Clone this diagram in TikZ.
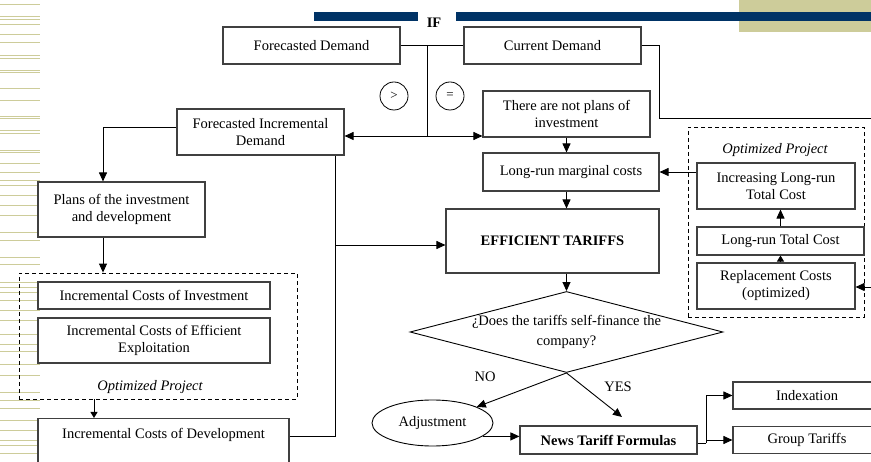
\documentclass[tikz,border=0pt]{standalone}
\usepackage{fontspec}
\setmainfont{Liberation Serif}
\usetikzlibrary{arrows.meta,shapes.geometric}

\begin{document}
\begin{tikzpicture}[x=1pt,y=-1pt]

    % Colors: slide decoration and box lines
    \definecolor{slidebeige}{RGB}{205,204,154}
    \definecolor{slidenavy}{RGB}{0,51,102}
    \colorlet{boxline}{black!75}

    % Page = 871 x 462 (1 unit = 1pt, y grows downwards)
    \useasboundingbox (0,0) rectangle (871,462);
    \clip (0,0) rectangle (871,462);

    % --- Slide decoration ---
    \foreach \yy in {4,16,19,24,34,42,55,58,70,72,88,100,116,118,130,133,150,152,
                     163,172,180,185,195,205,215,232,240,257,264,282,287,292,300,
                     310,320,334,344,351,364,375,392,400,408,420,430,440,445,453}
        \fill[slidebeige] (0,\yy) rectangle (40,\yy+1.5);
    \fill[slidebeige] (739,0) rectangle (871,32);
    \fill[slidenavy] (314,12) rectangle (418,21);
    \fill[slidenavy] (456,12) rectangle (871,21);

    % Box style: plain rectangle, sizes given per node
    \tikzset{
        cbox/.style={draw=boxline, line width=1.1pt, fill=white,
            align=center, inner sep=0pt,
            font=\fontsize{14.5}{17}\selectfont},
        grp/.style={draw=black, dashed, line width=0.8pt,
            dash pattern=on 4pt off 3pt, inner sep=0pt},
        lbl/.style={inner sep=0pt, font=\fontsize{14.5}{17}\selectfont},
        conn/.style={draw=black, line width=0.9pt},
        arr/.style={conn, -{Triangle[length=9pt,width=8pt]}},
        sarr/.style={conn, -{Triangle[length=6pt,width=7pt]}}
    }

    % --- Top: IF comparison ---
    \node[lbl, font=\fontsize{14.5}{17}\selectfont\bfseries] (iflbl) at (434,23) {IF};
    \node[cbox, minimum width=177, minimum height=37] (fdem) at (311.5,45.5) {Forecasted Demand};
    \node[cbox, minimum width=177, minimum height=37] (cdem) at (552.5,45.5) {Current Demand};
    \node[draw=black, line width=0.8pt, circle, minimum size=28, inner sep=0pt,
          font=\fontsize{13}{15}\selectfont] (gt) at (394,96) {>};
    \node[draw=black, line width=0.8pt, circle, minimum size=28, inner sep=0pt,
          font=\fontsize{13}{15}\selectfont] (eq) at (450,96) {=};

    \node[cbox, minimum width=167, minimum height=46] (fidem) at (260.5,132) {Forecasted Incremental\\Demand};
    \node[cbox, minimum width=167, minimum height=46] (noplan) at (566.5,114) {There are not plans of\\investment};

    % --- Centre column ---
    \node[cbox, minimum width=176, minimum height=38] (lrmc) at (571,172) {Long-run marginal costs};
    \node[cbox, minimum width=213, minimum height=64, font=\fontsize{14.5}{17}\selectfont\bfseries]
        (eff) at (552.5,241) {EFFICIENT TARIFFS};
    % decision diamond (text is wider than the shape, so it sits on top)
    \node[draw=black, line width=0.9pt, diamond, inner sep=0pt,
          minimum width=313, minimum height=81] (dia) at (566.5,332) {};
    \node[lbl, align=center, font=\fontsize{14.5}{20}\selectfont]
        (dialbl) at (dia.center) {¿Does the tariffs self-finance the\\company?};

    % --- Right group (optimized project) ---
    \node[grp, minimum width=176, minimum height=190] (grpR) at (776,222) {};
    \node[lbl, font=\fontsize{14.5}{17}\selectfont\itshape] (optR) at (775,150) {Optimized Project};
    \node[cbox, minimum width=158, minimum height=46] (iltc) at (776,186) {Increasing Long-run\\Total Cost};
    \node[cbox, minimum width=167, minimum height=28] (ltc) at (780.5,241) {Long-run Total Cost};
    \node[cbox, minimum width=158, minimum height=46] (repl) at (776,286) {Replacement Costs\\(optimized)};

    % --- Left column ---
    \node[cbox, minimum width=167, minimum height=55] (plans) at (121.5,209.5) {Plans of the investment\\and development};
    \node[grp, minimum width=278, minimum height=126] (grpL) at (158,336) {};
    \node[cbox, minimum width=232, minimum height=27] (ici) at (154,295.5) {Incremental Costs of Investment};
    \node[cbox, minimum width=232, minimum height=45] (icee) at (154,340.5) {Incremental Costs of Efficient\\Exploitation};
    \node[lbl, font=\fontsize{14.5}{17}\selectfont\itshape] (optL) at (150,387) {Optimized Project};
    \node[cbox, anchor=north, minimum width=251, text height=20pt, text depth=40pt]
        (icd) at (163.5,418) {Incremental Costs of Development};

    % --- Bottom row ---
    \node[draw=black, line width=0.9pt, ellipse, minimum width=121, minimum height=46,
          inner sep=0pt, font=\fontsize{14.5}{17}\selectfont] (adj) at (432.5,423) {Adjustment};
    \node[cbox, minimum width=177, minimum height=28, font=\fontsize{14.5}{17}\selectfont\bfseries]
        (news) at (608.5,440) {News Tariff Formulas};
    \node[cbox, minimum width=148, minimum height=27] (index) at (807,395.5) {Indexation};
    \node[cbox, minimum width=148, minimum height=27] (group) at (807,440) {Group Tariffs};
    \node[lbl] (nolbl) at (485,377) {NO};
    \node[lbl] (yeslbl) at (618,387) {YES};

    % Junction points
    \coordinate (jif) at (427,45.5);
    \coordinate (jsplit) at (427,136);
    \coordinate (jcur) at (659,118);
    \coordinate (edgeA) at (871,118);
    \coordinate (edgeB) at (871,287);
    \coordinate (jeff) at (335,245);
    \coordinate (xdev) at (94,0);
    \coordinate (jnews) at (706,0);
    \coordinate (yesend) at (622,417);

    % --- Connectors ---
    \draw[conn] (fdem.east) -- (cdem.west);
    \draw[conn] (jif) -- (jsplit);
    \draw[arr] (jsplit) -- (jsplit -| fidem.east);
    \draw[arr] (jsplit) -- (jsplit -| noplan.west);
    \draw[conn] (cdem.east) -| (jcur) -- (edgeA);
    \draw[arr] (edgeB) -- (edgeB -| repl.east);

    \draw[arr] (noplan.south) -- (noplan.south |- lrmc.north);
    \draw[arr] (noplan.south |- lrmc.south) -- (noplan.south |- eff.north);
    \draw[arr] (dia.north |- eff.south) -- (dia.north);
    \draw[arr] (iltc.west |- lrmc.east) -- (lrmc.east);
    \draw[sarr] (ltc.south |- repl.north) -- (ltc.south);
    \draw[arr] (ltc.north) -- (ltc.north |- iltc.south);

    \draw[arr] ([yshift=5]fidem.west) -| ([xshift=-18.5]plans.north);
    \draw[arr] ([xshift=-18.5]plans.south) -- ([xshift=-18.5]plans.south |- grpL.north);
    \draw[sarr] (xdev |- grpL.south) -- (xdev |- icd.north);
    \draw[conn] ([yshift=-18]icd.north east) -| ([xshift=-9]fidem.south east);
    \draw[arr] (jeff) -- (jeff -| eff.west);

    \draw[arr] (dia.south) -- (adj.20);
    \draw[arr] (dia.south) -- (yesend);
    \draw[arr] (adj.-15) -- (adj.-15 -| news.west);
    \draw[conn] ([yshift=-3]news.east) -- ([yshift=-3]news.east -| jnews);
    \draw[arr] ([yshift=-3]news.east -| jnews) |- (index.west);
    \draw[arr] ([yshift=-3]news.east -| jnews) |- (group.west);

\end{tikzpicture}
\end{document}
